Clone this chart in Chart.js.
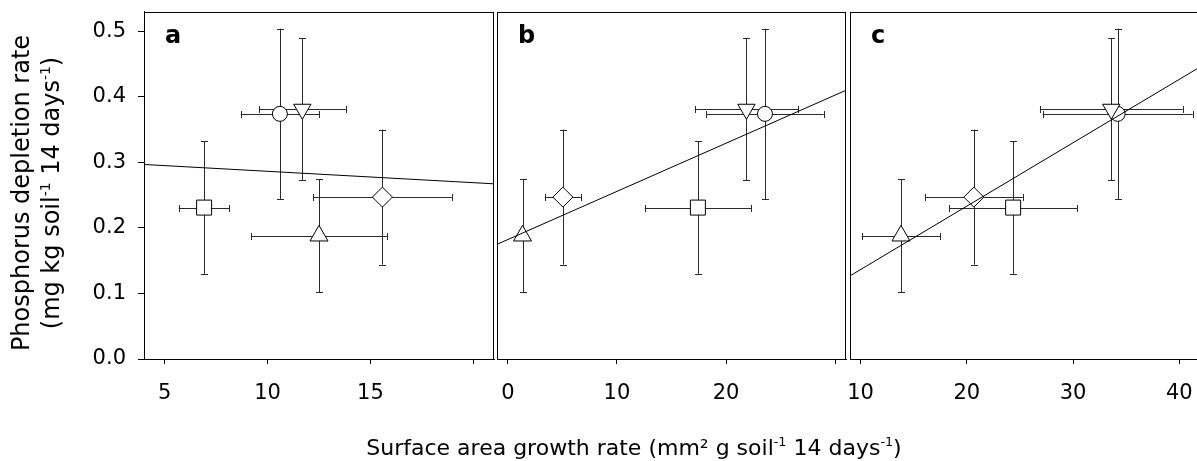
<!DOCTYPE html>
<html>
<head>
<meta charset="utf-8">
<script src="https://cdn.jsdelivr.net/npm/chart.js@4.4.1/dist/chart.umd.min.js"></script>
<style>
html,body{margin:0;padding:0;background:#fff;}
#wrap{position:relative;width:1197px;height:461px;overflow:hidden;background:#fff;font-family:'DejaVu Sans',sans-serif;color:#000;}
canvas{position:absolute;left:0;top:0;}
.panel{position:absolute;font-weight:bold;font-size:24px;line-height:24px;white-space:nowrap;}
.sup{font-size:0.58em;position:relative;top:-0.68em;}
#ytitle{position:absolute;left:-164px;top:163px;width:400px;height:60px;transform:rotate(-90deg);transform-origin:50% 50%;text-align:center;font-size:24px;line-height:30px;white-space:nowrap;}
#xtitle{position:absolute;left:334px;top:437px;width:600px;text-align:center;font-size:22px;line-height:22px;white-space:nowrap;}
</style>
</head>
<body>
<div id="wrap">
  <canvas id="ca" width="1240" height="461"></canvas>
  <canvas id="cb" width="1240" height="461"></canvas>
  <canvas id="cc" width="1240" height="461"></canvas>
  <div class="panel" style="left:165px;top:23px;">a</div>
  <div class="panel" style="left:518px;top:23px;">b</div>
  <div class="panel" style="left:871px;top:23px;">c</div>
  <div id="ytitle">Phosphorus depletion rate<br>(mg kg soil<span class="sup">-1</span> 14 days<span class="sup">-1</span>)</div>
  <div id="xtitle">Surface area growth rate (mm² g soil<span class="sup">-1</span> 14 days<span class="sup">-1</span>)</div>
</div>
<script>
// ---- data ----
const markers = ['square', 'circle', 'downTriangle', 'diamond', 'upTriangle'];
const depletionRate = [0.231, 0.374, 0.381, 0.247, 0.188];
const depletionErr  = [0.101, 0.130, 0.108, 0.103, 0.086];

const growthA    = [6.92, 10.60, 11.69, 15.58, 12.50];
const growthErrA = [1.23, 1.90, 2.11, 3.37, 3.30];
const growthB    = [17.42, 23.57, 21.87, 5.04, 1.34];
const growthErrB = [4.87, 5.38, 4.73, 1.66, 0.30];
const growthC    = [24.36, 34.20, 33.60, 20.66, 13.80];
const growthErrC = [6.01, 7.06, 6.72, 4.61, 3.70];

const fitIntercept = [0.3037, 0.1823, 0.0398];
const fitSlope     = [-0.001735, 0.007344, 0.00967];

const panelLetters = ['a', 'b', 'c'];
const xMin  = [4, -1, 9];
const xMax  = [21, 31, 41.86];
const xStep = [5, 10, 10];
const xHiddenTickLabel = [20, 30, null];
const yMin = 0, yMax = 0.53, yStep = 0.1;

// ---- styles ----
const FONT = "'DejaVu Sans', sans-serif";
const CANVAS_W = 1240;
const markerStyle = {
  square:       { style: 'rect',     rot: 0,   r: 10.6 },
  circle:       { style: 'circle',   rot: 0,   r: 7.5 },
  downTriangle: { style: 'triangle', rot: 180, r: 10 },
  diamond:      { style: 'rectRot',  rot: 0,   r: 10 },
  upTriangle:   { style: 'triangle', rot: 0,   r: 10.4 }
};

const errorBarPlugin = {
  id: 'errorBars',
  beforeDatasetsDraw(chart) {
    const ctx = chart.ctx, xs = chart.scales.x, ys = chart.scales.y;
    const ds = chart.data.datasets.find(d => d.errX);
    if (!ds) return;
    const cap = 3.5;
    const a = v => Math.round(v) + 0.5;
    ctx.save();
    ctx.strokeStyle = '#2a2a2a';
    ctx.lineWidth = 1;
    ds.data.forEach((p, i) => {
      const px = a(xs.getPixelForValue(p.x)), py = a(ys.getPixelForValue(p.y));
      const xl = xs.getPixelForValue(p.x - ds.errX[i]), xr = xs.getPixelForValue(p.x + ds.errX[i]);
      const yt = ys.getPixelForValue(p.y + ds.errY[i]), yb = ys.getPixelForValue(p.y - ds.errY[i]);
      ctx.beginPath();
      ctx.moveTo(xl, py); ctx.lineTo(xr, py);
      ctx.moveTo(a(xl), py - cap); ctx.lineTo(a(xl), py + cap);
      ctx.moveTo(a(xr), py - cap); ctx.lineTo(a(xr), py + cap);
      ctx.moveTo(px, yt); ctx.lineTo(px, yb);
      ctx.moveTo(px - cap, a(yt)); ctx.lineTo(px + cap, a(yt));
      ctx.moveTo(px - cap, a(yb)); ctx.lineTo(px + cap, a(yb));
      ctx.stroke();
    });
    ctx.restore();
  }
};

const framePlugin = {
  id: 'frame',
  afterDraw(chart) {
    const { ctx, chartArea: c } = chart;
    ctx.save();
    ctx.strokeStyle = '#000';
    ctx.lineWidth = 1;
    ctx.strokeRect(Math.round(c.left) + 0.5, Math.round(c.top) + 0.5,
                   Math.round(c.right - c.left) - 1, Math.round(c.bottom - c.top));
    ctx.restore();
  }
};

const growth = [growthA, growthB, growthC];
const growthErr = [growthErrA, growthErrB, growthErrC];
// chart-area horizontal placement for each panel (left, right in px)
const areaLeft = [144, 497, 850];
const areaRight = [494, 846, 1199];
const canvasIds = ['ca', 'cb', 'cc'];

function makePanel(k) {
  const pts = markers.map((m, i) => ({ x: growth[k][i], y: depletionRate[i] }));
  const fitLine = [xMin[k], xMax[k]].map(x => ({ x: x, y: fitIntercept[k] + fitSlope[k] * x }));
  const showY = k === 0;
  new Chart(document.getElementById(canvasIds[k]), {
    type: 'scatter',
    data: {
      datasets: [
        {
          type: 'line', data: fitLine, order: 0,
          borderColor: '#000', borderWidth: 1, pointRadius: 0, pointHoverRadius: 0,
          fill: false, tension: 0
        },
        {
          type: 'scatter', data: pts, order: 1,
          errX: growthErr[k], errY: depletionErr,
          pointStyle: markers.map(m => markerStyle[m].style),
          rotation: markers.map(m => markerStyle[m].rot),
          pointRadius: markers.map(m => markerStyle[m].r),
          pointHoverRadius: markers.map(m => markerStyle[m].r),
          pointBackgroundColor: '#fff', pointBorderColor: '#000', pointBorderWidth: 1,
          pointHoverBackgroundColor: '#fff', pointHoverBorderColor: '#000', pointHoverBorderWidth: 1
        }
      ]
    },
    options: {
      responsive: false, animation: false, events: [],
      layout: { padding: { left: showY ? 0 : areaLeft[k], right: CANVAS_W - areaRight[k], top: 11, bottom: 0 } },
      plugins: { legend: { display: false }, tooltip: { enabled: false } },
      scales: {
        x: {
          type: 'linear', min: xMin[k], max: xMax[k],
          afterFit(s) { s.height = 102; s.paddingLeft = 0; s.paddingRight = 0; },
          ticks: {
            stepSize: xStep[k], includeBounds: false, autoSkip: false, maxRotation: 0,
            color: '#000', font: { family: FONT, size: 21 }, padding: 17,
            callback: v => (v === xHiddenTickLabel[k] ? '' : String(v))
          },
          grid: { drawOnChartArea: false, tickLength: 5, color: '#000' },
          border: { color: '#000', width: 1 }
        },
        y: {
          type: 'linear', min: yMin, max: yMax, display: showY,
          afterFit(s) { s.width = showY ? areaLeft[0] : 0; s.paddingTop = 0; s.paddingBottom = 0; },
          ticks: {
            stepSize: yStep, includeBounds: false,
            color: '#000', font: { family: FONT, size: 21 }, padding: 12,
            callback: v => Number(v).toFixed(1)
          },
          grid: { drawOnChartArea: false, tickLength: 6, color: '#000' },
          border: { color: '#000', width: 1 }
        }
      }
    },
    plugins: [errorBarPlugin, framePlugin]
  });
}
[0, 1, 2].forEach(makePanel);
</script>
</body>
</html>
